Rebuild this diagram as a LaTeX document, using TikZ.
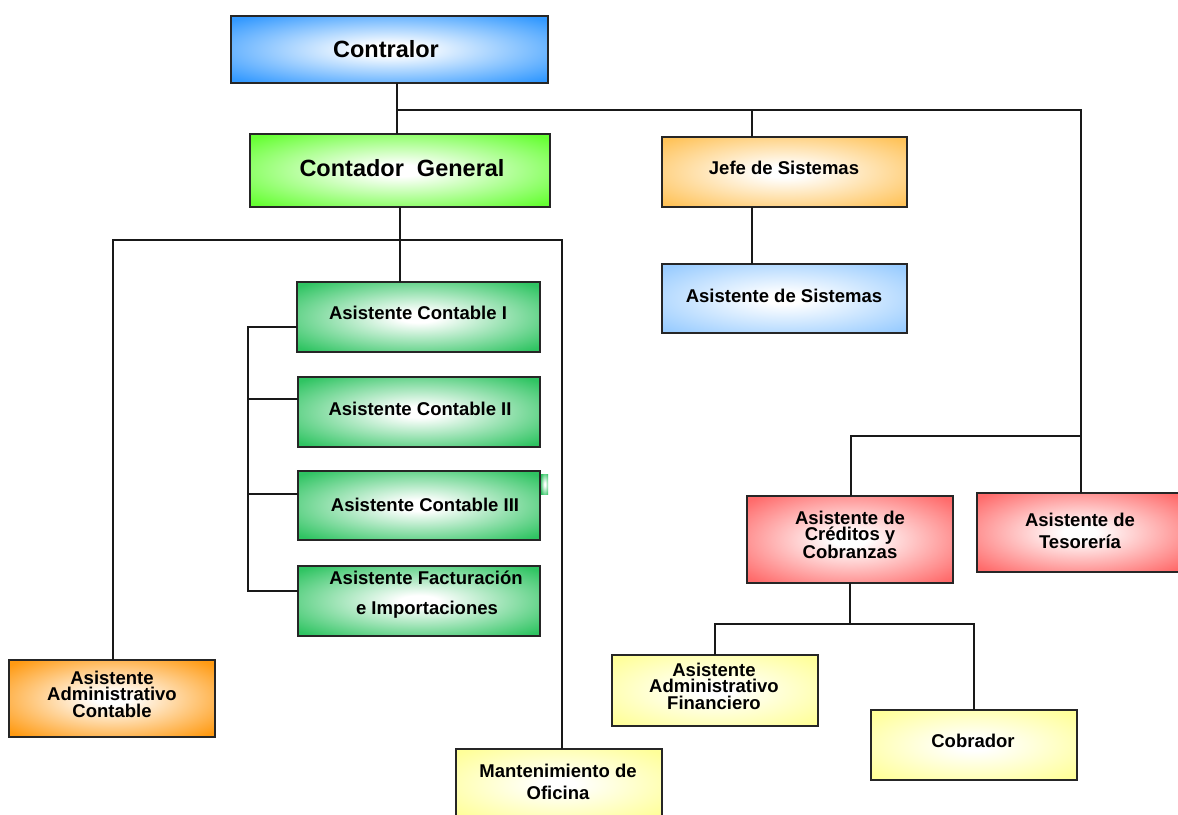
\documentclass[tikz,border=0pt]{standalone}
\usepackage{fontspec}
\setmainfont{Liberation Sans}
\definecolor{cblue}{HTML}{3399FF}
\definecolor{cgreen}{HTML}{66FF33}
\definecolor{corange}{HTML}{FFC35A}
\definecolor{clblue}{HTML}{99CCFF}
\definecolor{cmgreen}{HTML}{2FC462}
\definecolor{cdorange}{HTML}{FF9A12}
\definecolor{cyellow}{HTML}{FFFF99}
\definecolor{cred}{HTML}{FF6B6B}
\colorlet{boxcol}{white}
\pgfdeclareradialshading[boxcol]{boxglow}{\pgfpoint{0bp}{0bp}}{color(0bp)=(white); color(4bp)=(white); color(33bp)=(boxcol); color(100bp)=(boxcol)}
\tikzset{
  box/.style={draw=black!85, line width=1.6pt, /utils/exec={\colorlet{boxcol}{#1}}, shading=boxglow,
    inner sep=0pt, outer sep=0pt, anchor=north west, minimum width=206},
  txt/.style={inner sep=0pt, align=center, font=\bfseries\fontsize{18.5}{16.5}\selectfont},
  bigtxt/.style={inner sep=0pt, align=center, font=\bfseries\fontsize{23.5}{26}\selectfont},
  link/.style={line width=1.5pt, black!90}
}
\begin{document}
\begin{tikzpicture}[x=1pt,y=-1pt]
\fill[white] (0,0) rectangle (1178,814);
\useasboundingbox (0,0) rectangle (1178,814);
% boxes
\node[box=cblue, minimum width=317, minimum height=67] (contralor) at (231,16) {};
\node[box=cgreen, minimum width=300, minimum height=73] (contador) at (250,134) {};
\node[box=corange, minimum width=245, minimum height=70] (jefe) at (662,137) {};
\node[box=clblue, minimum width=245, minimum height=69] (sis) at (662,264) {};
\node[box=cmgreen, minimum width=243, minimum height=70] (c1) at (297,282) {};
\node[box=cmgreen, minimum width=242, minimum height=70] (c2) at (298,377) {};
\node[box=cmgreen, minimum width=242, minimum height=69] (c3) at (298,471) {};
\node[box=cmgreen, minimum width=242, minimum height=70] (fac) at (298,566) {};
\node[box=cdorange, minimum height=77] (aac) at (9,660) {};
\node[box=cyellow, minimum height=70] (mant) at (456,749) {};
\node[box=cred, minimum height=87] (cred) at (747,496) {};
\node[box=cred, minimum height=79] (tes) at (977,493) {};
\node[box=cyellow, minimum height=71] (afin) at (612,655) {};
\node[box=cyellow, minimum height=70] (cob) at (871,710) {};
\node[/utils/exec={\colorlet{boxcol}{cmgreen}}, shading=boxglow, minimum width=7, minimum height=20, inner sep=0pt, anchor=north west] (tick) at (541,474) {};
% texts
\node[bigtxt] (contralor-t) at (386,49) {Contralor};
\node[bigtxt] (contador-t) at (402,168) {Contador~~General};
\node[txt] (jefe-t) at (784,168) {Jefe de Sistemas};
\node[txt] (sis-t) at (784,296) {Asistente de Sistemas};
\node[txt] (c1-t) at (418,313) {Asistente Contable I};
\node[txt] (c2-t) at (420,409) {Asistente Contable II};
\node[txt] (c3-t) at (425,505) {Asistente Contable III};
\node[txt] (fac-t1) at (426,578) {Asistente Facturación};
\node[txt] (fac-t2) at (427,610) {e Importaciones};
\node[txt] (aac-t) at (112,694) {Asistente\\Administrativo\\Contable};
\node[txt] (mant-t) at (558,782) {Mantenimiento de\\[5.5pt]Oficina};
\node[txt] (cred-t) at (850,535) {Asistente de\\Créditos y\\Cobranzas};
\node[txt] (tes-t) at (1080,531) {Asistente de\\[5.5pt]Tesorería};
\node[txt] (afin-t) at (714,686) {Asistente\\Administrativo\\Financiero};
\node[txt] (cob-t) at (973,741) {Cobrador};
% connectors
\coordinate (t1) at (397,110);
\coordinate (t2) at (1081,110);
\coordinate (t3) at (752,110);
\coordinate (t4) at (1081,436);
\coordinate (t5) at (851,436);
\coordinate (t6) at (113,240);
\coordinate (t7) at (562,240);
\coordinate (b1) at (248,327);
\coordinate (b2) at (248,399);
\coordinate (b3) at (248,494);
\coordinate (b4) at (248,591);
\coordinate (t8) at (850,624);
\draw[link] (contralor.south -| t1) -- (contador.north -| t1);
\draw[link] (t1) -- (t2) -- (t2 |- tes.north);
\draw[link] (t3) -- (t3 |- jefe.north);
\draw[link] (t3 |- jefe.south) -- (t3 |- sis.north);
\draw[link] (t4) -- (t5) -- (t5 |- cred.north);
\draw[link] (contador.south) -- (contador.south |- c1.north);
\draw[link] (t6 |- aac.north) -- (t6) -- (t7) -- (t7 |- mant.north);
\draw[link] (c1.west |- b1) -- (b1) -- (b4) -- (fac.west |- b4);
\draw[link] (b2) -- (c2.west |- b2);
\draw[link] (b3) -- (c3.west |- b3);
\draw[link] (cred.south -| t8) -- (t8);
\draw[link] (afin.north) -- (afin.north |- t8) -- (cob.north |- t8) -- (cob.north);
\end{tikzpicture}
\end{document}
